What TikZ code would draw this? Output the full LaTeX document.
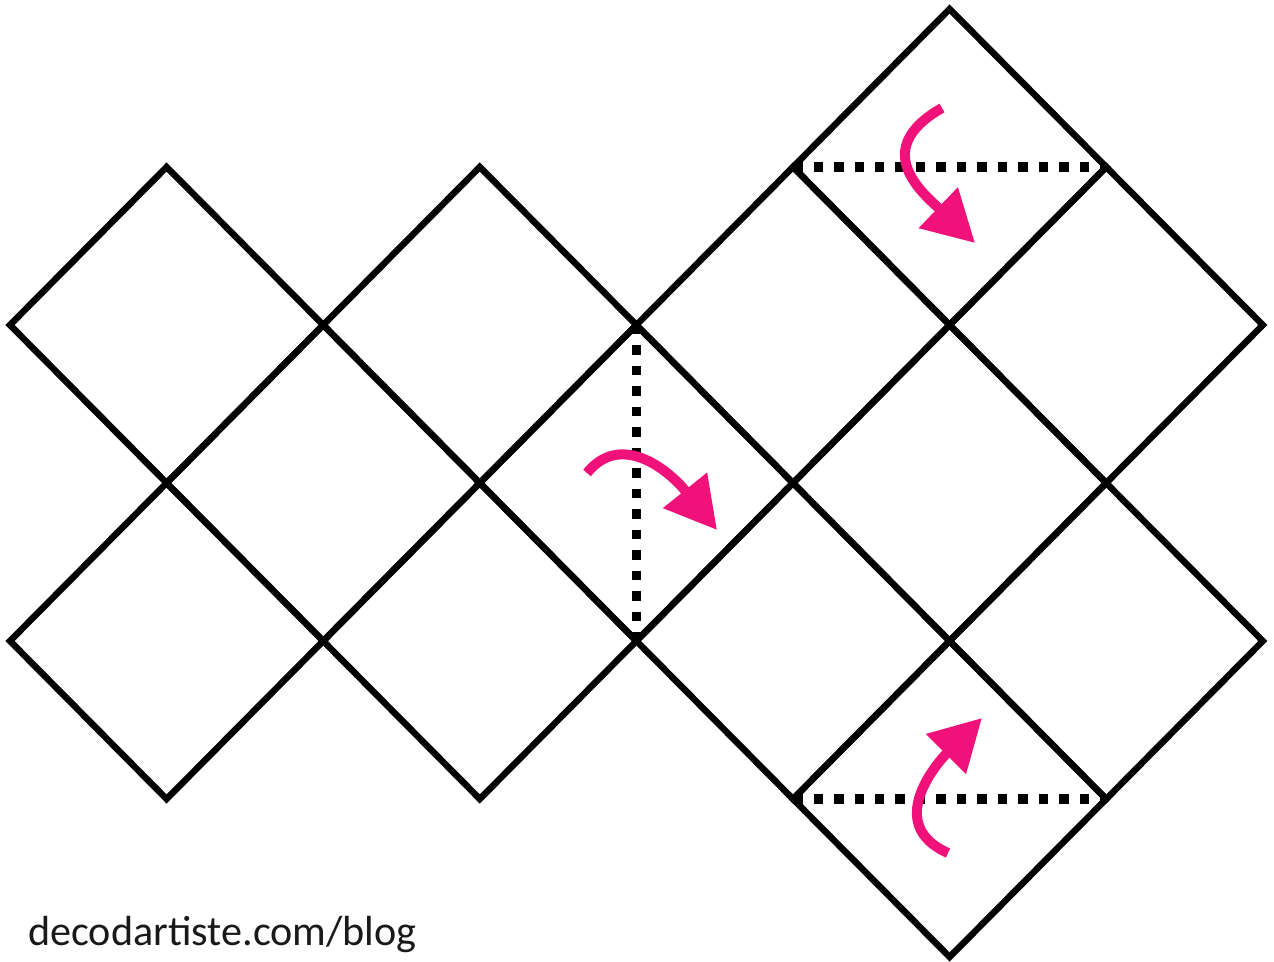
\documentclass[tikz,border=0pt]{standalone}
\usepackage{fontspec}
\newfontfamily\blogfont{Carlito}
\usetikzlibrary{arrows.meta,calc}
\definecolor{foldpink}{RGB}{240,18,122}
\tikzset{
  edge/.style={draw=black, line width=0.13cm, line join=miter},
  fold/.style={draw=black, line width=0.19cm, dash pattern=on 0.19cm off 0.22cm},
  turn/.style={draw=foldpink, line width=0.2cm, -{Triangle[length=1.02cm, width=1.08cm]}},
  credit/.style={font=\blogfont\fontsize{24}{27}\selectfont, text=black!90, inner sep=0pt, anchor=base west}
}

\begin{document}
\begin{tikzpicture}[x=0.02cm, y=-0.02cm]
  \useasboundingbox (0,0) rectangle (1274,962);
  \foreach \i in {0,...,8}
    \foreach \j in {0,...,6}
      \coordinate (v-\i-\j) at ({10+156.6*\i},{9+158*\j});
  \foreach \i/\j in {1/1,1/3,2/2,3/1,3/3,4/2,5/1,6/0,7/1,6/2,5/3,7/3,6/4}{
    \pgfmathtruncatemacro\il{\i-1}
    \pgfmathtruncatemacro\ir{\i+1}
    \pgfmathtruncatemacro\jm{\j+1}
    \pgfmathtruncatemacro\jb{\j+2}
    \draw[edge] (v-\i-\j) -- (v-\il-\jm) -- (v-\i-\jb) -- (v-\ir-\jm) -- cycle;
  }
  \draw[fold] (v-5-1) -- (v-7-1);
  \draw[fold] (v-4-2) -- (v-4-4);
  \draw[fold] (v-5-5) -- (v-7-5);
  \coordinate (top-s) at (942,108);
  \coordinate (top-e) at (975,243);
  \coordinate (mid-s) at (587,473);
  \coordinate (mid-e) at (717,530);
  \coordinate (low-s) at (948,853);
  \coordinate (low-e) at (982,718);
  \draw[turn] (top-s) .. controls (868,150) and (925,195) .. (top-e);
  \draw[turn] (mid-s) .. controls (620,432) and (667,468) .. (mid-e);
  \draw[turn] (low-s) .. controls (885,825) and (935,765) .. (low-e);
  \node[credit] (blog) at (28,945) {decodartiste.com/blog};
\end{tikzpicture}
\end{document}
